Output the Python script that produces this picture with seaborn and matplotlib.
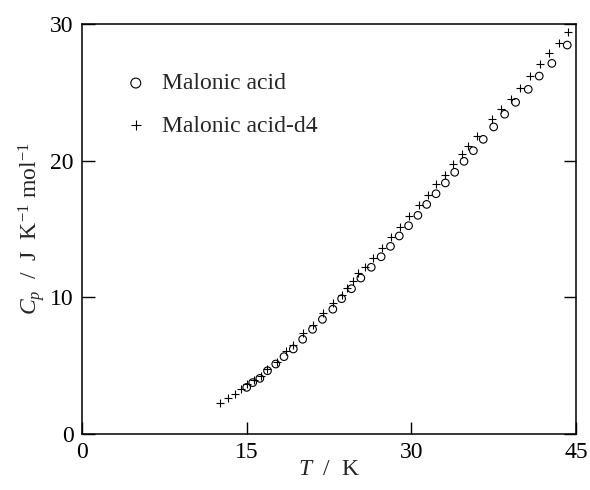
import matplotlib
matplotlib.use("Agg")
import matplotlib.pyplot as plt
import seaborn as sns
import pandas as pd

# Malonic acid (open circles)
t_h = [15.0, 15.55, 16.2, 16.9, 17.65, 18.4, 19.25, 20.1, 21.0, 21.9, 22.85,
       23.65, 24.55, 25.4, 26.35, 27.25, 28.1, 28.9, 29.75, 30.6, 31.4, 32.25,
       33.1, 33.95, 34.8, 35.65, 36.55, 37.5, 38.5, 39.5, 40.65, 41.65, 42.8, 44.2]
cp_h = [3.41, 3.76, 4.07, 4.63, 5.12, 5.66, 6.22, 6.93, 7.66, 8.39, 9.13,
        9.9, 10.63, 11.41, 12.2, 12.97, 13.73, 14.49, 15.24, 16.0, 16.8, 17.58,
        18.37, 19.15, 19.95, 20.73, 21.56, 22.47, 23.4, 24.27, 25.22, 26.19, 27.12, 28.46]

# Malonic acid-d4 (plus signs)
t_d = [12.57, 13.33, 13.94, 14.45, 15.06, 15.67, 16.28, 16.88, 17.73, 18.58,
       19.25, 20.16, 21.01, 21.92, 22.9, 23.65, 24.11, 24.66, 25.17, 25.78,
       26.48, 27.3, 28.12, 28.97, 29.82, 30.73, 31.49, 32.25, 33.07, 33.82,
       34.59, 35.19, 35.95, 37.32, 38.14, 39.05, 39.9, 40.81, 41.72, 42.54,
       43.48, 44.3]
cp_d = [2.24, 2.61, 2.93, 3.29, 3.66, 3.95, 4.24, 4.73, 5.29, 6.07,
        6.51, 7.41, 7.98, 8.83, 9.6, 10.17, 10.71, 11.19, 11.76, 12.24,
        12.88, 13.61, 14.39, 15.12, 15.95, 16.73, 17.49, 18.27, 18.95, 19.73,
        20.46, 21.07, 21.8, 23.03, 23.76, 24.54, 25.34, 26.19, 27.05, 27.86,
        28.59, 29.39]

x_ticks = [0, 15, 30, 45]
y_ticks = [0, 10, 20, 30]
label_h = "Malonic acid"
label_d = "Malonic acid-d4"

sns.set_style("ticks")
plt.rcParams["font.family"] = ["Liberation Serif", "DejaVu Serif"]
plt.rcParams["mathtext.fontset"] = "custom"
plt.rcParams["mathtext.rm"] = "Liberation Serif"
plt.rcParams["mathtext.it"] = "Liberation Serif:italic"
plt.rcParams["mathtext.bf"] = "Liberation Serif:bold"

df_h = pd.DataFrame({"T": t_h, "Cp": cp_h})
df_d = pd.DataFrame({"T": t_d, "Cp": cp_d})

fig = plt.figure(figsize=(5.9, 4.9), dpi=100)
ax = fig.add_axes([82 / 590, 56 / 490, 494 / 590, 410 / 490])

sns.scatterplot(data=df_h, x="T", y="Cp", ax=ax, marker="o", s=30,
                facecolors="none", edgecolor="black", linewidth=0.8,
                label=label_h, zorder=3)
sns.scatterplot(data=df_d, x="T", y="Cp", ax=ax, marker="+", s=36,
                color="black", linewidth=0.8, label=label_d, zorder=3)

ax.set_xlim(0, 45)
ax.set_ylim(0, 30)
ax.set_xticks(x_ticks)
ax.set_yticks(y_ticks)
ax.tick_params(direction="in", length=9, width=1.0, labelsize=17, pad=6,
               colors="black", right=True, top=False)
for s in ax.spines.values():
    s.set_visible(True)
    s.set_linewidth(1.1)
    s.set_color("black")

ax.set_xlabel(r"$T$  /  K", fontsize=17, labelpad=-3)
ax.set_ylabel(r"$C_p$  /  J  K$^{\mathrm{-1}}$ mol$^{\mathrm{-1}}$", fontsize=17,
              labelpad=2)

leg = ax.legend(loc="upper left", bbox_to_anchor=(0.042, 0.933), frameon=False,
                fontsize=17, handletextpad=0.6, labelspacing=0.88,
                markerscale=1.3, handlelength=1.0)

fig.savefig("out.png", dpi=100)
